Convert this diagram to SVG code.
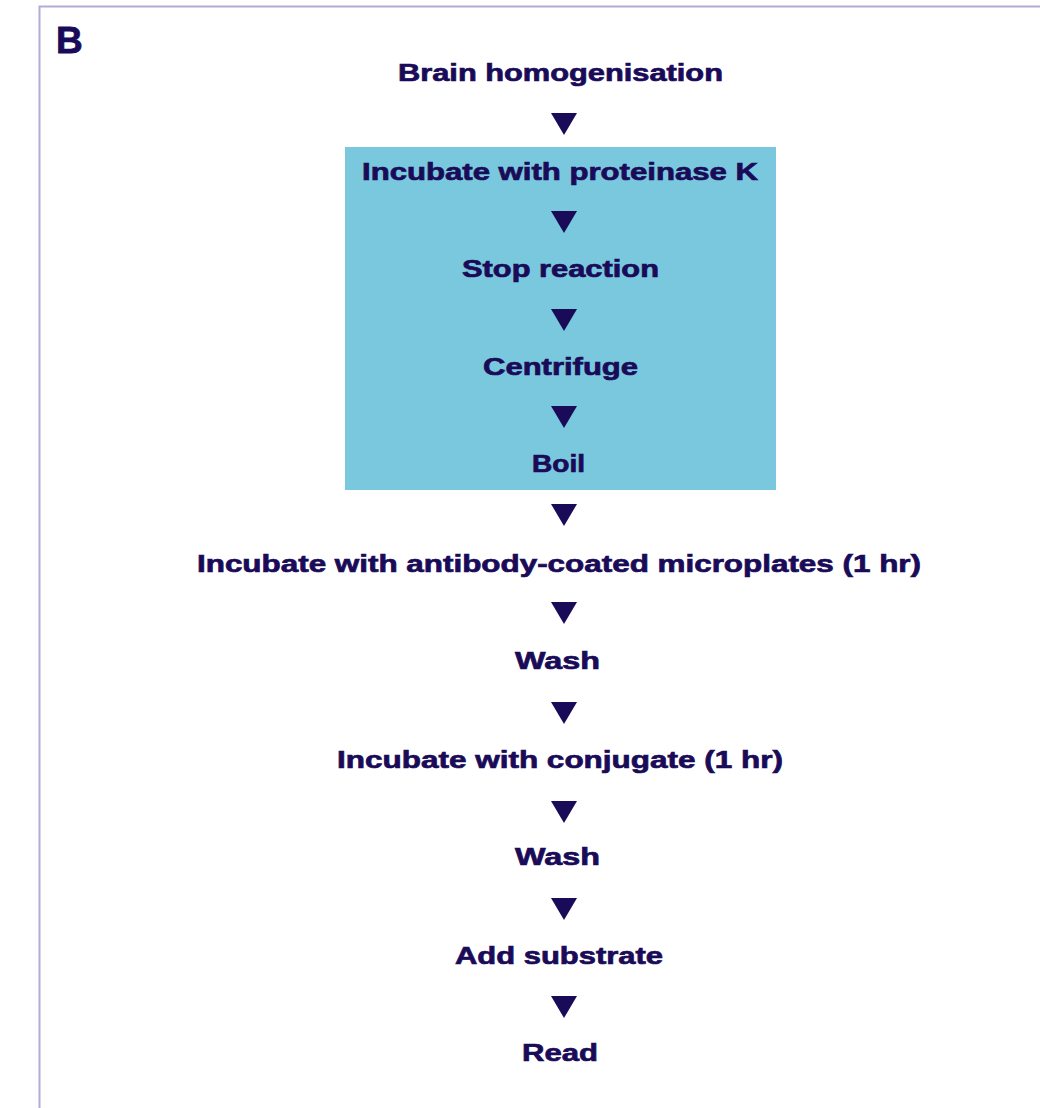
<svg xmlns="http://www.w3.org/2000/svg" width="1040" height="1108" viewBox="0 0 1040 1108">
<style>
.t{font-family:"Liberation Sans",Arial,sans-serif;font-weight:bold;font-size:24px;fill:#1a0b58;stroke:#1a0b58;stroke-width:0.7;text-anchor:middle}
.a{fill:#1a0b58}
</style>
<defs>
<polygon id="arr" points="-13,0 13,0 0,22"/>
</defs>
<rect width="1040" height="1108" fill="#ffffff"/>
<path d="M1041,6.5 H39.5 V1109" fill="none" stroke="#b6aad8" stroke-width="2"/>
<text x="56" y="53" font-family="Liberation Sans, Arial, sans-serif" font-weight="900" font-size="37" fill="#1a0b58" stroke="#1a0b58" stroke-width="0.8">B</text>
<rect id="box" x="345" y="147" width="431" height="343" fill="#79c8dd"/>
<g id="n1"><text class="t" x="560.5" y="81" textLength="325" lengthAdjust="spacingAndGlyphs">Brain homogenisation</text></g>
<g id="n2"><text class="t" x="560" y="180" textLength="396" lengthAdjust="spacingAndGlyphs">Incubate with proteinase K</text></g>
<g id="n3"><text class="t" x="560.5" y="277" textLength="197" lengthAdjust="spacingAndGlyphs">Stop reaction</text></g>
<g id="n4"><text class="t" x="560.5" y="375" textLength="155" lengthAdjust="spacingAndGlyphs">Centrifuge</text></g>
<g id="n5"><text class="t" x="558.5" y="472" textLength="53" lengthAdjust="spacingAndGlyphs">Boil</text></g>
<g id="n6"><text class="t" x="559" y="572" textLength="724" lengthAdjust="spacingAndGlyphs">Incubate with antibody-coated microplates (1 hr)</text></g>
<g id="n7"><text class="t" x="557.5" y="669" textLength="85" lengthAdjust="spacingAndGlyphs">Wash</text></g>
<g id="n8"><text class="t" x="560" y="768" textLength="446" lengthAdjust="spacingAndGlyphs">Incubate with conjugate (1 hr)</text></g>
<g id="n9"><text class="t" x="557.5" y="865" textLength="85" lengthAdjust="spacingAndGlyphs">Wash</text></g>
<g id="n10"><text class="t" x="559" y="964" textLength="208" lengthAdjust="spacingAndGlyphs">Add substrate</text></g>
<g id="n11"><text class="t" x="560" y="1061" textLength="76" lengthAdjust="spacingAndGlyphs">Read</text></g>
<g id="connectors" class="a">
<use href="#arr" x="564" y="113"/>
<use href="#arr" x="564" y="211"/>
<use href="#arr" x="564" y="309"/>
<use href="#arr" x="564" y="406"/>
<use href="#arr" x="564" y="504"/>
<use href="#arr" x="564" y="602"/>
<use href="#arr" x="564" y="702"/>
<use href="#arr" x="564" y="801"/>
<use href="#arr" x="564" y="898"/>
<use href="#arr" x="564" y="996"/>
</g>
</svg>
